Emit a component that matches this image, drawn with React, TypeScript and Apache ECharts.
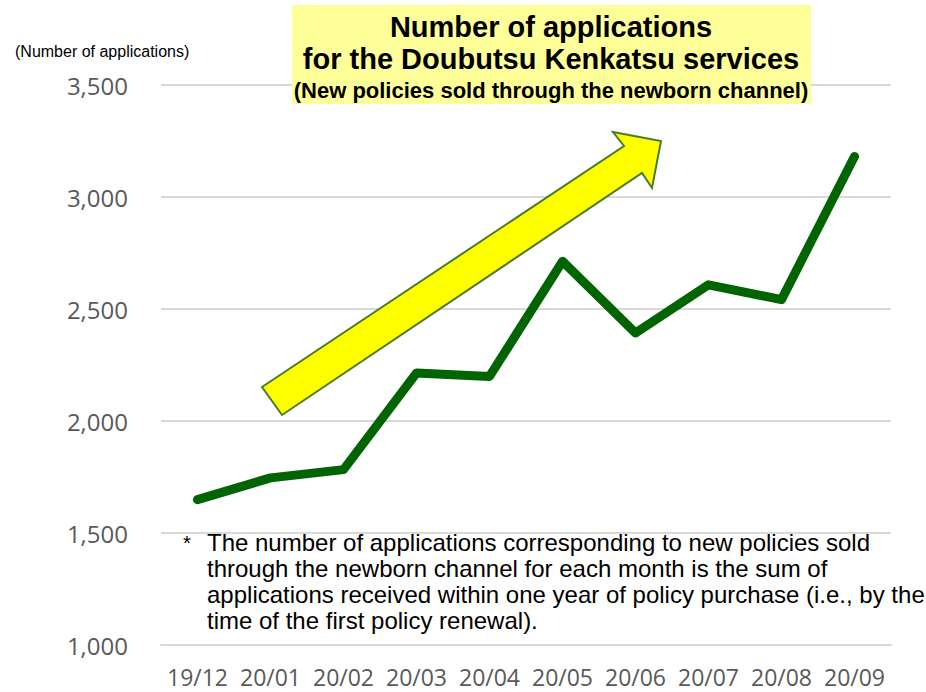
import React, { useEffect, useRef } from "react";
import * as echarts from "echarts";

const months = ["19/12", "20/01", "20/02", "20/03", "20/04", "20/05", "20/06", "20/07", "20/08", "20/09"];
const applications = [1649, 1746, 1783, 2214, 2199, 2713, 2393, 2608, 2542, 3181];
const yTicks = { min: 1000, max: 3500, interval: 500 };

const unitLabel = "(Number of applications)";
const titleLines = ["Number of applications", "for the Doubutsu Kenkatsu services"];
const subtitle = "(New policies sold through the newborn channel)";
const footnoteLines = [
  "The number of applications corresponding to new policies sold",
  "through the newborn channel for each month is the sum of",
  "applications received within one year of policy purchase (i.e., by the",
  "time of the first policy renewal).",
];

export default function App() {
  const ref = useRef<HTMLDivElement>(null);
  useEffect(() => {
    document.body.style.margin = "0";
    if (!ref.current) return;
    const chart = echarts.init(ref.current, null, { renderer: "svg" });
    const axisFont = "'Open Sans', sans-serif";
    const arial = "'Liberation Sans', Arial, sans-serif";
    chart.setOption({
      animation: false,
      backgroundColor: "#ffffff",
      grid: { left: 161, right: 35, top: 85, bottom: 47 },
      xAxis: {
        type: "category",
        data: months,
        boundaryGap: true,
        axisLine: { show: true, lineStyle: { color: "#d9d9d9", width: 2 } },
        axisTick: { show: false },
        axisLabel: {
          color: "#595959",
          fontSize: 23,
          fontFamily: axisFont,
          margin: 32,
          interval: 0,
          hideOverlap: false,
          verticalAlign: "middle",
          lineHeight: 22,
        },
      },
      yAxis: {
        type: "value",
        min: yTicks.min,
        max: yTicks.max,
        interval: yTicks.interval,
        axisLine: { show: false },
        axisTick: { show: false },
        splitLine: { show: true, lineStyle: { color: "#d9d9d9", width: 2 } },
        axisLabel: {
          color: "#595959",
          fontSize: 24,
          fontFamily: axisFont,
          margin: 33,
          formatter: (v: number) => v.toLocaleString("en-US"),
        },
      },
      series: [
        {
          type: "line",
          data: applications,
          symbol: "none",
          lineStyle: { color: "#006400", width: 9, cap: "round", join: "round" },
          z: 3,
        },
      ],
      graphic: [
        {
          type: "text",
          x: 15,
          y: 51,
          style: { text: unitLabel, font: `16px ${arial}`, fill: "#000000", verticalAlign: "middle" },
        },
        {
          type: "polygon",
          z: 10,
          shape: {
            points: [
              [262, 387],
              [624, 146],
              [613, 132],
              [661, 141],
              [652, 188],
              [642, 173],
              [282, 415],
            ],
          },
          style: { fill: "#ffff00", stroke: "#4a7c2a", lineWidth: 2 },
        },
        {
          type: "rect",
          z: 20,
          shape: { x: 292, y: 5, width: 519, height: 99 },
          style: { fill: "#ffff99" },
        },
        {
          type: "text",
          z: 21,
          x: 551,
          y: 27,
          style: {
            text: titleLines[0],
            font: `bold 29px ${arial}`,
            fill: "#000000",
            align: "center",
            verticalAlign: "middle",
          },
        },
        {
          type: "text",
          z: 21,
          x: 551,
          y: 59,
          style: {
            text: titleLines[1],
            font: `bold 29px ${arial}`,
            fill: "#000000",
            align: "center",
            verticalAlign: "middle",
          },
        },
        {
          type: "text",
          z: 21,
          x: 551,
          y: 90,
          style: {
            text: subtitle,
            font: `bold 22px ${arial}`,
            fill: "#000000",
            align: "center",
            verticalAlign: "middle",
          },
        },
        {
          type: "text",
          z: 21,
          x: 183,
          y: 543,
          style: { text: "*", font: `20px ${arial}`, fill: "#000000", verticalAlign: "middle" },
        },
        ...footnoteLines.map((t, i) => ({
          type: "text",
          z: 21,
          x: 207,
          y: 542 + i * 26.3,
          style: {
            text: t,
            font: `24px ${arial}`,
            fill: "#000000",
            verticalAlign: "middle",
          },
        })),
      ],
    });
    return () => chart.dispose();
  }, []);
  return <div ref={ref} style={{ width: 926, height: 692 }} />;
}
